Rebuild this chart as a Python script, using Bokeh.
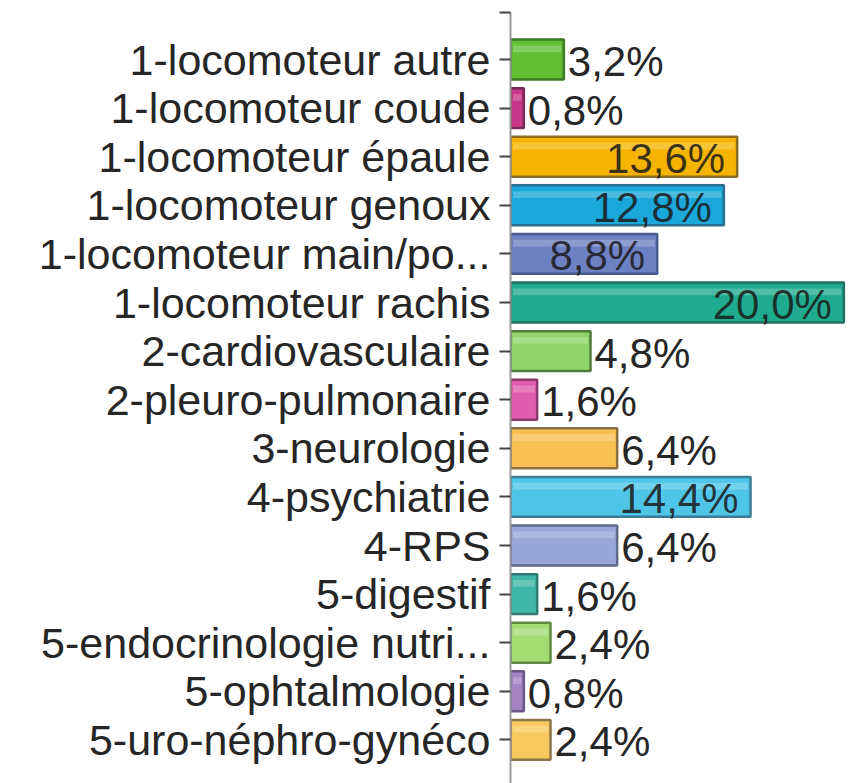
from bokeh.plotting import figure
from bokeh.models import Range1d, FixedTicker, ColumnDataSource
from bokeh.embed import file_html
from bokeh.resources import INLINE
from bokeh.core.properties import value

categories = [
    "1-locomoteur autre",
    "1-locomoteur coude",
    "1-locomoteur épaule",
    "1-locomoteur genoux",
    "1-locomoteur main/po...",
    "1-locomoteur rachis",
    "2-cardiovasculaire",
    "2-pleuro-pulmonaire",
    "3-neurologie",
    "4-psychiatrie",
    "4-RPS",
    "5-digestif",
    "5-endocrinologie nutri...",
    "5-ophtalmologie",
    "5-uro-néphro-gynéco",
]
values = [3.2, 0.8, 13.6, 12.8, 8.8, 20.0, 4.8, 1.6, 6.4, 14.4, 6.4, 1.6, 2.4, 0.8, 2.4]
value_labels = ["3,2%", "0,8%", "13,6%", "12,8%", "8,8%", "20,0%", "4,8%", "1,6%",
                "6,4%", "14,4%", "6,4%", "1,6%", "2,4%", "0,8%", "2,4%"]
fill_colors = ["#62bf34", "#c8378c", "#f6b400", "#1aa7d9", "#6d80c2", "#1eab90",
               "#8fd468", "#e05cae", "#f9c153", "#4fc6e8", "#98a6d8", "#3fb7a6",
               "#a2dc72", "#a383c2", "#f8c95f"]
edge_colors = ["#3d7a26", "#7a2a5a", "#8a6c22", "#2a6d8c", "#48598c", "#23705e",
               "#4f7c3a", "#8a3a6a", "#8a7040", "#3a7c95", "#606a8e", "#2f7a6e",
               "#5e8a40", "#6a5688", "#8a7448"]

idx = list(range(len(categories)))
inside = [v >= 8 for v in values]

src = ColumnDataSource(dict(
    y=idx, v=values, lab=value_labels, fill=fill_colors, edge=edge_colors,
    hl_y=[i - 0.22 for i in idx], hl_v=[max(v - 0.15, 0) for v in values],
))
src_in = ColumnDataSource(dict(
    y=[i for i in idx if inside[i]], v=[values[i] for i in idx if inside[i]],
    lab=[value_labels[i] for i in idx if inside[i]]))
src_out = ColumnDataSource(dict(
    y=[i for i in idx if not inside[i]], v=[values[i] for i in idx if not inside[i]],
    lab=[value_labels[i] for i in idx if not inside[i]]))

row0, step = 59.0, 48.6
y_top = -(row0 - 12) / step
y_bot = (783 - row0) / step

p = figure(width=859, height=783, output_backend="svg", toolbar_location=None,
           x_range=Range1d(0, (859 - 511) / 16.62),
           y_range=Range1d(y_bot, y_top),
           x_axis_location=None,
           min_border_left=510, min_border_right=0, min_border_top=12, min_border_bottom=0)
p.outline_line_color = None
p.grid.visible = False
p.background_fill_color = "white"

p.hbar(y="y", right="v", left=0, height=0.82, source=src,
       fill_color="fill", line_color="edge", line_width=2.5)
p.hbar(y="hl_y", right="hl_v", left=0.15, height=0.14, source=src,
       fill_color="white", fill_alpha=0.22, line_color=None)

font = value("Liberation Sans")
p.text(x="v", y="y", text="lab", source=src_out, text_font=font,
       text_font_size="42px", text_color="#262626", text_align="left",
       text_baseline="middle", x_offset=4, y_offset=2)
p.text(x="v", y="y", text="lab", source=src_in, text_font=font,
       text_font_size="42px", text_color="#1a1a1a", text_alpha=0.85,
       text_align="right", text_baseline="middle", x_offset=-12, y_offset=2)

ax = p.yaxis[0]
ax.ticker = FixedTicker(ticks=[y_top] + idx)
overrides = {i: c for i, c in zip(idx, categories)}
overrides[y_top] = ""
ax.major_label_overrides = overrides
ax.major_label_text_font = "Liberation Sans"
ax.major_label_text_font_size = "43px"
ax.major_label_text_color = "#262626"
ax.major_label_standoff = 9
ax.major_tick_out = 11
ax.major_tick_in = 0
ax.minor_tick_out = 0
ax.minor_tick_in = 0
ax.major_tick_line_color = "#444444"
ax.major_tick_line_width = 2
ax.axis_line_color = "#9a9a9a"
ax.axis_line_width = 2

open("out.html", "w").write(file_html(p, INLINE))
